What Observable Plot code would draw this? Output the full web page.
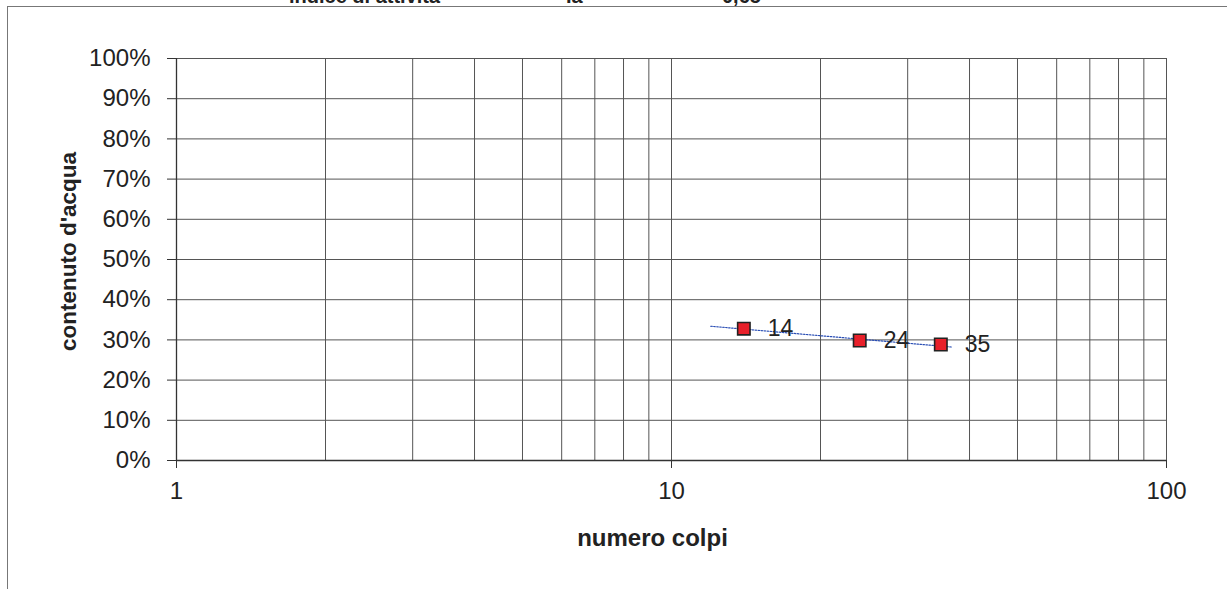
<!DOCTYPE html>
<html>
<head>
<meta charset="utf-8">
<script src="https://cdn.jsdelivr.net/npm/d3@7"></script>
<script src="https://cdn.jsdelivr.net/npm/@observablehq/plot@0.6"></script>
<style>
  html, body { margin: 0; padding: 0; background: #fff; overflow: hidden; }
  #wrap { position: relative; width: 1227px; height: 589px; overflow: hidden; font-family: "Liberation Sans", Arial, sans-serif; }
  #frame { position: absolute; left: 7px; top: 6px; right: -10px; bottom: -10px; border-left: 1.5px solid #777; border-top: 1.5px solid #777; pointer-events: none; }
  .t { position: absolute; top: -14px; font-weight: bold; font-size: 20px; line-height: 20px; color: #222; white-space: nowrap; }
  #chart { position: absolute; left: 0; top: 0; }
</style>
</head>
<body>
<div id="wrap">
  <div id="frame"></div>
  <div class="t" style="left:289px">indice di attività</div>
  <div class="t" style="left:566px">Ia =</div>
  <div class="t" style="left:722px">0,65</div>
  <div id="chart"></div>
</div>
<script>
// data
const blows = [14, 24, 35];
const water = [0.328, 0.2985, 0.2886];
const blowLabels = ["14", "24", "35"];
// trend line endpoints (dotted, log fit shown in the chart)
const trendX = [12, 37];
const trendY = [0.334, 0.282];
// ticks and grid
const xTicks = [1, 10, 100];
const xGrid = [1, 2, 3, 4, 5, 6, 7, 8, 9, 10, 20, 30, 40, 50, 60, 70, 80, 90, 100];
const yTicks = [0, 0.1, 0.2, 0.3, 0.4, 0.5, 0.6, 0.7, 0.8, 0.9, 1];

const points = blows.map((b, i) => ({x: b, y: water[i], label: blowLabels[i]}));
const trend = trendX.map((x, i) => ({x, y: trendY[i]}));

const chart = Plot.plot({
  width: 1227,
  height: 589,
  marginLeft: 176,
  marginRight: 61,
  marginTop: 58,
  marginBottom: 129,
  style: {fontFamily: "'Liberation Sans', Arial, sans-serif", color: "#222", background: "transparent"},
  x: {type: "log", domain: [1, 100]},
  y: {domain: [0, 1]},
  marks: [
    Plot.ruleX(xGrid, {stroke: "#555", strokeWidth: 1}),
    Plot.ruleY(yTicks, {stroke: "#555", strokeWidth: 1}),
    Plot.ruleX([1], {stroke: "#333", strokeWidth: 1.3}),
    Plot.ruleY([0], {stroke: "#333", strokeWidth: 1.3}),
    Plot.axisY({ticks: yTicks, tickFormat: d => Math.round(d * 100) + "%", tickSize: 9, tickPadding: 17, fontSize: 24, label: null, stroke: "#333"}),
    Plot.axisX({ticks: xTicks, tickFormat: d => String(d), tickSize: 8, tickPadding: 13, fontSize: 24, label: null, stroke: "#333"}),
    Plot.text(["numero colpi"], {frameAnchor: "bottom", dx: -19, dy: 85, textAnchor: "middle", text: d => d, fontSize: 24, fontWeight: "bold", fill: "#222"}),
    Plot.text(["contenuto d'acqua"], {frameAnchor: "left", dx: -108, dy: -8, textAnchor: "middle", rotate: -90, text: d => d, fontSize: 22.5, fontWeight: "bold", fill: "#222"}),
    Plot.line(trend, {x: "x", y: "y", stroke: "#2b4fb5", strokeWidth: 1.2, strokeDasharray: "1.5,1.5"}),
    Plot.dot(points, {x: "x", y: "y", symbol: "square", r: 7, fill: "#e8202a", stroke: "#222", strokeWidth: 1.6}),
    Plot.text(points, {x: "x", y: "y", text: "label", dx: 24, textAnchor: "start", fontSize: 23, fill: "#222"})
  ]
});
document.getElementById("chart").appendChild(chart);
</script>
</body>
</html>
